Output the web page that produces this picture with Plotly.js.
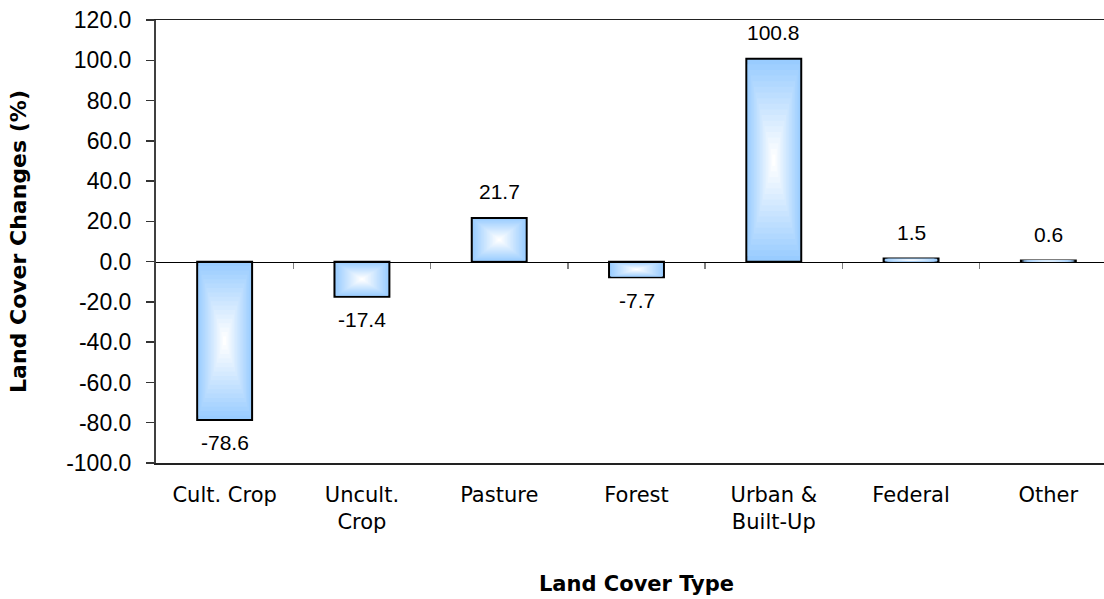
<!DOCTYPE html>
<html><head><meta charset="utf-8">
<script src="https://cdn.plot.ly/plotly-3.0.1.min.js"></script>
<style>html,body{margin:0;padding:0;overflow:hidden;background:#fff}</style>
</head><body><div id="chart"></div>
<script>
// ---- data ----
const categories = ["Cult. Crop", "Uncult.<br>Crop", "Pasture", "Forest", "Urban &<br>Built-Up", "Federal", "Other"];
const changes = [-78.6, -17.4, 21.7, -7.7, 100.8, 1.5, 0.6];
const yTickValues = [-100, -80, -60, -40, -20, 0, 20, 40, 60, 80, 100, 120];
const yTickLabels = ["-100.0", "-80.0", "-60.0", "-40.0", "-20.0", "0.0", "20.0", "40.0", "60.0", "80.0", "100.0", "120.0"];
const categoryBoundaries = [0.5, 1.5, 2.5, 3.5, 4.5, 5.5];

// ---- styling ----
const BAR_WIDTH = 0.40;
const EDGE = [153, 204, 255];
const CENTER = [255, 255, 255];
const LAYERS = 18;

const traces = [];
for (let k = 0; k < LAYERS; k++) {
  const s = 1 - k / LAYERS;               // shrink factor for the "from centre" shading
  const t = k / (LAYERS - 1);
  const c = EDGE.map((e, i) => Math.round(e + (CENTER[i] - e) * t));
  traces.push({
    type: 'bar',
    x: categories,
    y: changes.map(v => v * s),
    base: changes.map(v => v * (1 - s) / 2),
    width: BAR_WIDTH * s,
    marker: {
      color: 'rgb(' + c.join(',') + ')',
      line: {color: '#000', width: k === 0 ? 2 : 0}
    },
    name: k === 0 ? 'Land Cover Changes (%)' : 'shade',
    hoverinfo: k === 0 ? 'x+y' : 'skip',
    showlegend: false
  });
}
// helper trace for the zero-line axis with category boundary ticks
traces.push({type: 'scatter', x: [], y: [], xaxis: 'x2', yaxis: 'y', hoverinfo: 'skip', showlegend: false});

const annotations = categories.map((cat, i) => ({
  x: cat, y: changes[i], xref: 'x', yref: 'y',
  text: changes[i].toFixed(1),
  showarrow: false,
  yshift: changes[i] >= 0 ? 26 : -23,
  font: {family: 'Liberation Sans, Arial, sans-serif', size: 21, color: '#000'}
}));

const layout = {
  width: 1117, height: 599,
  margin: {l: 156, r: 0, t: 20, b: 136},
  paper_bgcolor: '#fff', plot_bgcolor: '#fff',
  showlegend: false, barmode: 'overlay',
  font: {family: 'DejaVu Sans, sans-serif', color: '#000'},
  xaxis: {
    type: 'category', range: [-0.5, 6.5],
    showline: true, mirror: true, linecolor: '#222', linewidth: 1.5,
    ticks: '', showgrid: false, zeroline: false,
    tickfont: {family: 'DejaVu Sans, sans-serif', size: 21, color: '#000'},
    ticklabelstandoff: 12,
    title: {text: 'Land Cover Type', font: {family: 'DejaVu Sans, sans-serif', size: 21, weight: 'bold', color: '#000'}, standoff: 43}
  },
  xaxis2: {
    overlaying: 'x', anchor: 'free', position: 100 / 220,
    type: 'linear', range: [-0.5, 6.5],
    tickvals: categoryBoundaries, ticks: 'outside', ticklen: 6, tickcolor: '#808080', tickwidth: 1.5,
    showticklabels: false, showline: true, linecolor: '#000', linewidth: 1.5,
    showgrid: false, zeroline: false
  },
  yaxis: {
    range: [-100, 120], tickvals: yTickValues, ticktext: yTickLabels,
    ticks: 'outside', ticklen: 8, tickcolor: '#333', tickwidth: 1.5,
    showline: true, linecolor: '#404040', linewidth: 2,
    showgrid: false, zeroline: false,
    tickfont: {family: 'Liberation Sans, Arial, sans-serif', size: 23, color: '#000'},
    ticklabelstandoff: 10,
    title: {text: 'Land Cover Changes (%)', font: {family: 'DejaVu Sans, sans-serif', size: 22, weight: 'bold', color: '#000'}, standoff: 33}
  },
  annotations: annotations
};

Plotly.newPlot('chart', traces, layout, {displayModeBar: false, staticPlot: true});
</script>
</body></html>
